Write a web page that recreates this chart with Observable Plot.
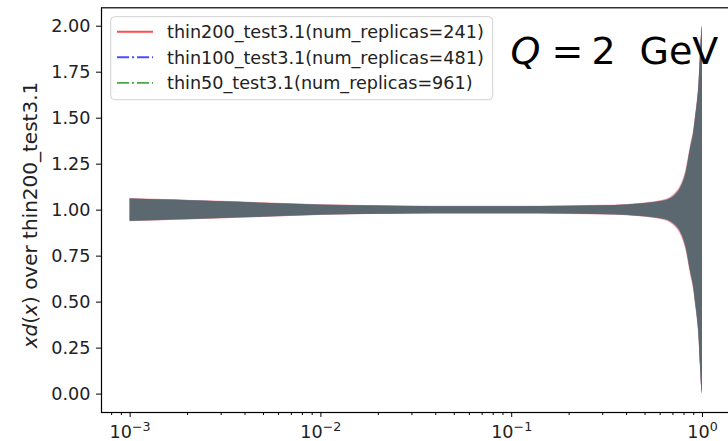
<!DOCTYPE html>
<html><head><meta charset="utf-8">
<script src="https://cdn.jsdelivr.net/npm/d3@7"></script>
<script src="https://cdn.jsdelivr.net/npm/@observablehq/plot@0.6"></script>
<style>
body{margin:0;background:#fff;}
#chart{width:728px;height:441px;overflow:hidden;}
#chart svg{font-family:"DejaVu Sans",sans-serif;}
</style></head><body><div id="chart"></div>
<script>
// ---- data ----
const seriesNames = ["thin200_test3.1(num_replicas=241)", "thin100_test3.1(num_replicas=481)", "thin50_test3.1(num_replicas=961)"];
const xs = [0.001, 0.0015, 0.002, 0.003, 0.005, 0.007, 0.01, 0.02, 0.03, 0.05, 0.1, 0.2, 0.3, 0.4, 0.47, 0.55, 0.6, 0.68, 0.72, 0.77, 0.82, 0.865, 0.9, 0.92, 0.94, 0.956, 0.976, 0.99, 1.0];
const center = 1.0;
const redErr   = [0.063,0.058,0.054,0.048,0.040,0.035,0.029,0.024,0.022,0.021,0.021,0.023,0.026,0.030,0.036,0.044,0.051,0.070,0.092,0.135,0.22,0.35,0.44,0.52,0.60,0.68,0.86,0.97,1.0];
const blueErr  = [0.061,0.056,0.052,0.046,0.038,0.033,0.028,0.0225,0.0205,0.0195,0.0195,0.0215,0.0245,0.0285,0.034,0.041,0.047,0.064,0.083,0.124,0.205,0.335,0.425,0.505,0.585,0.665,0.845,0.962,1.0];
const greenErr = [0.060,0.055,0.051,0.045,0.037,0.032,0.027,0.022,0.020,0.019,0.019,0.021,0.024,0.028,0.033,0.040,0.046,0.062,0.080,0.12,0.20,0.33,0.42,0.50,0.58,0.66,0.84,0.96,1.0];
const yTicks = [0, 0.25, 0.5, 0.75, 1.0, 1.25, 1.5, 1.75, 2.0];
const xMajor = [1e-3, 1e-2, 1e-1, 1];
const xMajorExp = ["\u22123", "\u22122", "\u22121", "0"];
const xMinor = [8e-4, 9e-4, 2e-3,3e-3,4e-3,5e-3,6e-3,7e-3,8e-3,9e-3, 2e-2,3e-2,4e-2,5e-2,6e-2,7e-2,8e-2,9e-2, 0.2,0.3,0.4,0.5,0.6,0.7,0.8,0.9];
const xDomain = [Math.pow(10,-3.15), Math.pow(10,0.15)];
const yDomain = [-0.1, 2.1];
const titleParts = ["Q", "=", "2", "GeV"];
const titleItalic = [true, false, false, false];
const titleOffsets = [409, 450, 490, 538];
const yLabelParts = [["x", true], ["d", true], ["(", false], ["x", true], [") over thin200_test3.1", false]];

const bandFill = ["#f59d9d", "#8c7f9c", "#5b6870"];
const lineColor = ["#ff4d4d", "#4d4dff", "#4da64d"];
const lineDash = [null, "12,3,2,3", "12,3,2,3"];

const rows = (err) => xs.map((x, i) => ({x, lo: center - err[i], hi: center + err[i]}));
const bands = [rows(redErr), rows(blueErr), rows(greenErr)];
const expMap = new Map(xMajor.map((d, i) => [d, xMajorExp[i]]));

const FS = 17.6;
const TFS = 38;
const plot = Plot.plot({
  width: 728, height: 441,
  marginLeft: 101, marginRight: -2.6, marginTop: 7.3, marginBottom: 29,
  x: {type: "log", domain: xDomain},
  y: {domain: yDomain},
  style: {fontFamily: "DejaVu Sans", fontSize: FS + "px", color: "#000", background: "#fff"},
  marks: [
    ...bands.map((b, i) => Plot.areaY(b, {x: "x", y1: "lo", y2: "hi", fill: bandFill[i], curve: "monotone-x", clip: true})),
    Plot.axisY(yTicks, {tickSize: 5, tickPadding: 6, tickFormat: d => d.toFixed(2), label: null, stroke: "#000", fill: "#222", fontSize: FS}),
    Plot.axisX(xMinor, {tickSize: 3, tickFormat: () => "", label: null, stroke: "#000"}),
    Plot.axisX(xMajor, {tickSize: 5, tickPadding: 7.5, tickFormat: d => "10|" + expMap.get(d), label: null, stroke: "#000", fill: "#222", fontSize: FS}),
    Plot.frame({stroke: "#000", strokeWidth: 1.2}),
    ...titleParts.map((t, i) => Plot.text([t], {frameAnchor: "top-left", dx: titleOffsets[i], dy: 56, text: d => d, fontSize: TFS, fontStyle: titleItalic[i] ? "italic" : "normal", textAnchor: "start", lineAnchor: "bottom", fill: "#000"}))
  ]
});
document.getElementById("chart").appendChild(plot);

const svg = d3.select(plot);
// superscript exponents on the x tick labels
svg.selectAll("text").each(function() {
  const t = d3.select(this);
  const s = t.text();
  if (s.startsWith("10|")) {
    const e = s.slice(3);
    t.text("10");
    t.append("tspan").text(e).attr("font-size", "0.72em").attr("dy", "-0.55em");
  }
});
// y label
const yl = svg.append("text")
  .attr("transform", "translate(37,215) rotate(-90)")
  .attr("text-anchor", "middle").attr("font-size", 20).attr("fill", "#222")
  .attr("font-family", "DejaVu Sans");
yLabelParts.forEach(([t, it]) => yl.append("tspan").text(t).attr("font-style", it ? "italic" : "normal"));

// legend
const lg = svg.append("g").attr("text-anchor", "start");
lg.append("rect").attr("x", 110.7).attr("y", 16.7).attr("width", 382).attr("height", 83)
  .attr("rx", 4).attr("fill", "#fff").attr("fill-opacity", 0.8).attr("stroke", "#d0d0d0");
seriesNames.forEach((name, i) => {
  const cy = 31.7 + i * 25.6;
  lg.append("line").attr("x1", 117).attr("x2", 153).attr("y1", cy).attr("y2", cy)
    .attr("stroke", lineColor[i]).attr("stroke-width", 1.9).attr("stroke-dasharray", lineDash[i]);
  lg.append("text").attr("x", 167).attr("y", cy + 6.4).attr("font-size", FS).attr("fill", "#222")
    .attr("text-anchor", "start").attr("font-family", "DejaVu Sans").text(name);
});
</script></body></html>
